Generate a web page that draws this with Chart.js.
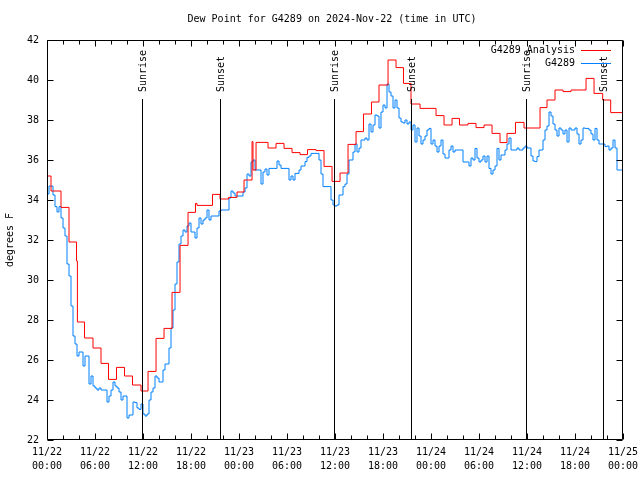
<!DOCTYPE html>
<html><head><meta charset="utf-8">
<script src="https://cdn.jsdelivr.net/npm/chart.js@4.4.1/dist/chart.umd.min.js"></script>
<style>html,body{margin:0;padding:0;background:#fff}#wrap{width:640px;height:480px;position:relative}</style>
</head><body><div id="wrap"><canvas id="c" width="640" height="480"></canvas></div>
<script>
// ---------- DATA ----------
const chartTitle = 'Dew Point for G4289 on 2024-Nov-22 (time in UTC)';
const yAxisTitle = 'degrees F';
const xTickLabels = [
  ['11/22','00:00'],['11/22','06:00'],['11/22','12:00'],['11/22','18:00'],
  ['11/23','00:00'],['11/23','06:00'],['11/23','12:00'],['11/23','18:00'],
  ['11/24','00:00'],['11/24','06:00'],['11/24','12:00'],['11/24','18:00'],
  ['11/25','00:00']
];
const seriesNames = ['G4289 Analysis', 'G4289'];
// analysis series: step start times (hours since 11/22 00:00 UTC) and values
const analysisHours = [0,0.5,1.75,2.75,3.69,3.8,4.69,5.75,6.75,7.69,8.69,9.69,10.69,11.75,12.63,13.63,14.63,15.63,16.63,17.63,18.56,18.75,20.69,21.63,22.69,23.75,24.63,25.63,25.75,26.13,27.63,28.63,29.63,30.63,31.63,32.56,33.63,34.63,35.63,36.63,37.63,38.63,39.56,40.56,41.5,42.63,43.63,44.56,45.5,46.63,48.63,49.63,50.63,51.56,52.63,53.63,54.63,55.63,56.63,57.5,58.56,59.63,61.63,62.5,63.5,64.5,65.5,67.38,68.38,69.46,70.46,72];
const analysisValues = [35.2,34.45,33.63,31.9,30.95,27.9,27.1,26.6,25.83,25.03,25.63,25.2,24.75,24.45,25.43,27.08,27.58,29.38,31.73,33.38,33.83,33.73,34.28,34.05,34.13,34.4,35.0,36.92,35.5,36.88,36.6,36.83,36.58,36.37,36.27,36.52,36.47,35.68,34.93,35.35,36.78,37.42,38.3,38.9,39.75,41.0,40.62,39.83,38.8,38.58,38.22,37.75,38.08,37.75,37.83,37.62,37.75,37.33,36.87,37.33,37.88,37.6,38.62,39.0,39.5,39.42,39.5,40.08,39.33,39.0,38.37,38.37];
// observed series: one reading every 15 minutes from 11/22 00:00 UTC
const obsStartHour = 0;
const obsStepHours = 0.25;
const obsValues = [
34.3,34.7,34.7,34.25,33.67,33.4,33.67,33.1,32.6,32.2,30.8,30.2,28.7,27.2,26.8,26.2,26.4,26.4,25.7,26.2,
26.2,24.8,25.2,24.7,24.6,24.5,24.6,24.5,24.5,24.5,23.9,24.2,24.5,24.9,24.7,24.6,24.4,24.0,24.2,24.2,
23.1,23.25,23.25,23.9,23.87,23.6,23.53,23.8,23.3,23.2,23.3,24.0,24.4,24.6,25.2,25.1,24.9,24.9,25.5,25.8,
25.8,26.6,27.6,28.5,29.8,30.9,31.8,32.2,32.5,32.4,32.7,32.85,32.4,32.4,32.1,32.6,33.1,32.8,33.0,33.1,
33.5,33.0,33.2,33.2,33.2,33.2,33.45,33.5,33.5,33.5,33.5,34.1,34.45,34.35,34.2,34.2,34.2,34.2,34.4,34.6,
35.3,35.2,35.9,36.0,35.5,35.5,35.5,34.8,35.4,35.55,35.25,35.58,35.58,35.58,35.58,35.95,35.75,35.58,35.58,35.58,
35.58,35.0,35.2,35.0,35.33,35.33,35.5,35.7,35.7,35.92,36.13,36.2,36.33,36.33,36.33,36.33,36.0,35.3,34.67,34.67,
34.67,34.67,34.0,33.75,33.7,33.75,34.25,34.25,34.67,34.8,35.3,36.0,36.0,36.4,36.8,36.4,36.6,37.0,37.0,37.1,
37.0,37.8,37.4,37.75,38.25,38.2,37.6,38.4,38.75,38.6,39.8,39.4,39.2,38.6,39.0,38.6,38.1,37.9,37.85,38.0,
37.8,37.9,37.5,37.75,36.9,37.6,37.2,36.8,37.0,37.2,37.5,37.58,36.8,37.0,36.7,36.4,36.7,37.0,36.3,36.1,
36.1,36.5,36.7,36.4,36.5,36.5,36.5,36.5,35.9,35.9,35.9,35.7,36.1,36.0,36.58,36.1,35.9,36.0,36.2,35.9,
36.2,35.58,35.3,35.5,35.7,36.58,36.0,36.25,36.25,36.5,36.8,37.1,36.5,36.5,36.5,36.6,36.5,36.5,36.6,36.7,
36.6,36.6,36.2,35.95,35.92,36.17,36.5,36.5,37.0,37.5,37.7,38.4,38.2,37.8,37.5,37.2,37.6,37.5,37.3,37.5,
36.9,37.6,37.5,37.5,37.6,37.3,36.8,37.0,37.6,37.58,37.58,37.5,37.3,37.0,37.58,37.0,36.8,36.8,36.8,36.67,
36.7,36.5,36.6,37.0,36.6,35.5,35.5,35.5,35.4
];
const sunHours = [11.9, 21.65, 35.9, 45.53, 59.9, 69.53];
const sunLabels = ['Sunrise','Sunset','Sunrise','Sunset','Sunrise','Sunset'];

// ---------- STYLE ----------
const FONT = '10px "DejaVu Sans Mono", "Liberation Mono", monospace';
const RED = '#ff0000';
const BLUE = '#0080ff';

const analysisData = analysisHours.map((h, i) => ({x: h, y: analysisValues[i]}));
const obsData = obsValues.map((v, i) => ({x: obsStartHour + i * obsStepHours, y: v}));
obsData.push({x: 72, y: obsValues[obsValues.length - 1]});

const decor = {
  id: 'decor',
  afterDatasetsDraw(chart) {
    const ctx = chart.ctx;
    const xs = chart.scales.x, ys = chart.scales.y;
    const a = chart.chartArea;
    ctx.save();
    ctx.strokeStyle = '#000';
    ctx.lineWidth = 1;
    ctx.font = FONT;
    ctx.fillStyle = '#000';
    sunHours.forEach((h, i) => {
      const px = Math.round(xs.getPixelForValue(h)) + 0.5;
      ctx.beginPath();
      ctx.moveTo(px, a.bottom);
      ctx.lineTo(px, 99);
      ctx.stroke();
      ctx.save();
      ctx.translate(px + 1, 92);
      ctx.rotate(-Math.PI / 2);
      ctx.textAlign = 'left';
      ctx.textBaseline = 'middle';
      ctx.fillText(sunLabels[i], 0, 0);
      ctx.restore();
    });
    const L = Math.round(a.left) + 0.5, R = Math.round(a.right) - 0.5;
    const T = Math.round(a.top) + 0.5, B = Math.round(a.bottom) - 0.5;
    ctx.beginPath();
    ctx.rect(L, T, R - L, B - T);
    ctx.stroke();
    ctx.beginPath();
    for (let h = 0; h <= 72; h += 2) {
      const px = Math.round(xs.getPixelForValue(h)) + 0.5;
      const len = (h % 6 === 0) ? 6 : 4;
      ctx.moveTo(px, B); ctx.lineTo(px, B - len);
      ctx.moveTo(px, T); ctx.lineTo(px, T + len);
    }
    ys.ticks.forEach(t => {
      const py = Math.round(ys.getPixelForValue(t.value)) + 0.5;
      ctx.moveTo(L, py); ctx.lineTo(L + 6, py);
      ctx.moveTo(R, py); ctx.lineTo(R - 6, py);
    });
    ctx.stroke();
    ctx.textAlign = 'center';
    ctx.textBaseline = 'middle';
    ctx.fillText(chartTitle, 332, 19);
    const colors = [RED, BLUE];
    const rows = [50, 63];
    seriesNames.forEach((n, i) => {
      ctx.fillStyle = '#000';
      ctx.textAlign = 'right';
      ctx.fillText(n, 575, rows[i]);
      ctx.strokeStyle = colors[i];
      ctx.beginPath();
      ctx.moveTo(581, rows[i] + 0.5);
      ctx.lineTo(611, rows[i] + 0.5);
      ctx.stroke();
    });
    ctx.restore();
  }
};

new Chart(document.getElementById('c'), {
  type: 'line',
  data: {
    datasets: [
      {label: seriesNames[0], data: analysisData, borderColor: RED, borderWidth: 1, pointRadius: 0, stepped: 'before', fill: false, tension: 0},
      {label: seriesNames[1], data: obsData, borderColor: BLUE, borderWidth: 1, pointRadius: 0, stepped: 'before', fill: false, tension: 0}
    ]
  },
  options: {
    responsive: false,
    animation: false,
    devicePixelRatio: 1,
    layout: {autoPadding: false, padding: {top: 40, right: 17, left: 0, bottom: 0}},
    plugins: {legend: {display: false}, title: {display: false}, tooltip: {enabled: false}},
    scales: {
      x: {
        type: 'linear', min: 0, max: 72,
        grid: {display: false, drawTicks: false}, border: {display: false},
        ticks: {
          stepSize: 6, autoSkip: false, maxRotation: 0, minRotation: 0, padding: 5,
          color: '#000', font: {family: '"DejaVu Sans Mono", "Liberation Mono", monospace', size: 10, lineHeight: 1.4},
          callback: (v) => xTickLabels[Math.round(v / 6)]
        },
        afterFit: (s) => { s.height = 40; s.paddingLeft = 0; s.paddingRight = 0; }
      },
      y: {
        min: 22, max: 42,
        grid: {display: false, drawTicks: false}, border: {display: false},
        ticks: {stepSize: 2, padding: 8, color: '#000', font: {family: '"DejaVu Sans Mono", "Liberation Mono", monospace', size: 10}},
        title: {display: true, text: yAxisTitle, color: '#000', padding: {top: 4, bottom: 0}, font: {family: '"DejaVu Sans Mono", "Liberation Mono", monospace', size: 10}},
        afterFit: (s) => { s.width = 47; s.paddingTop = 0; s.paddingBottom = 0; }
      }
    }
  },
  plugins: [decor]
});
</script>
</body></html>
